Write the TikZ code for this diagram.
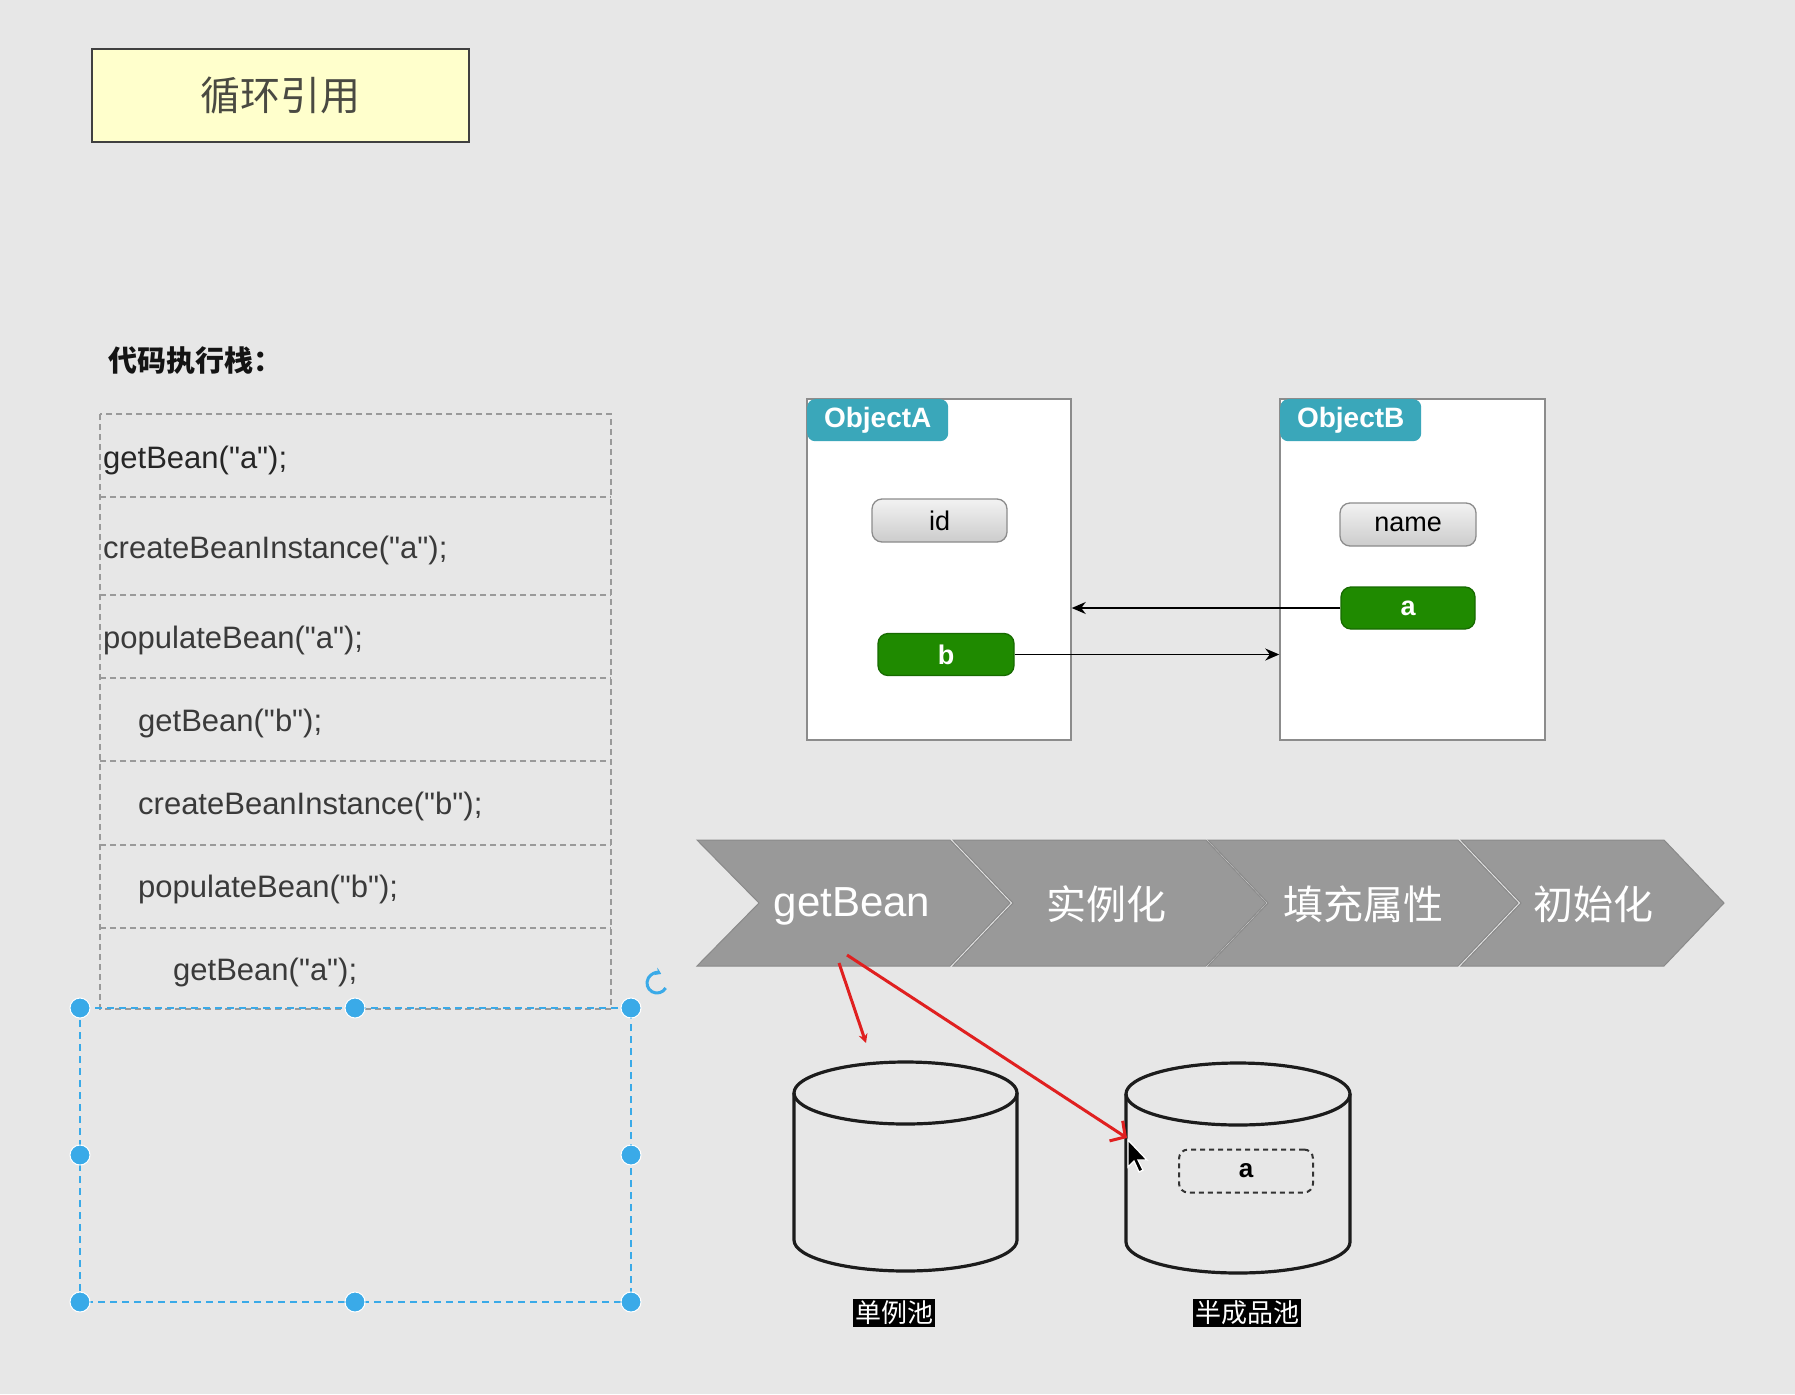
\documentclass[tikz,border=0pt]{standalone}
\usepackage{fontspec}
\setmainfont{Liberation Sans}
\newfontfamily\codefont{Liberation Sans}
\newfontfamily\cjk{Noto Sans CJK SC}
\usetikzlibrary{arrows.meta}
\newcommand{\myfs}[1]{\fontsize{#1}{#1}\selectfont}
\definecolor{bg}{HTML}{E7E7E7}
\definecolor{titlefill}{HTML}{FFFFCC}
\definecolor{titletext}{HTML}{4A4A42}
\definecolor{stackgray}{HTML}{9A9A9A}
\definecolor{codegray}{HTML}{3A3A3A}
\definecolor{selblue}{HTML}{3AAAE8}
\definecolor{tabteal}{HTML}{3AA7BA}
\definecolor{beangreen}{HTML}{1F8A00}
\definecolor{beangreendk}{HTML}{176A00}
\definecolor{chevgray}{HTML}{999999}
\definecolor{chevedge}{HTML}{8A8A8A}
\definecolor{boxgray}{HTML}{8C8C8C}
\definecolor{redline}{HTML}{E02020}
\definecolor{cylline}{HTML}{1C1C1C}
\begin{document}
\begin{tikzpicture}[x=1pt,y=-1pt,
  stackrow/.style={draw=stackgray, dash pattern=on 6pt off 4pt, line width=1.3pt},
  codetxt/.style={anchor=west, text=codegray, font=\codefont\myfs{31}, inner sep=0pt},
  objbox/.style={draw=boxgray, fill=white, line width=1.5pt, minimum height=341pt, inner sep=0pt},
  objtab/.style={fill=tabteal, rounded corners=8pt, text=white, font=\myfs{28}\bfseries, minimum width=141pt, minimum height=42pt, anchor=north west, inner sep=0pt},
  graypill/.style={draw=boxgray, line width=1.3pt, rounded corners=10pt, top color=white!95!black, bottom color=black!20, minimum height=43pt, font=\myfs{27}, inner sep=0pt},
  greenpill/.style={draw=beangreendk, line width=1.3pt, fill=beangreen, rounded corners=10pt, text=white, minimum height=42pt, font=\myfs{27}\bfseries, inner sep=0pt},
  objarr/.style={line width=1.6pt, -{Stealth[length=14pt,width=12pt]}},
  chev/.style={fill=chevgray, draw=chevedge, line width=1pt},
  chevtxt/.style={text=white, inner sep=0pt},
  cyl/.style={draw=cylline, line width=3.2pt},
  pooltag/.style={fill=black, text=white, font=\cjk\myfs{26}, inner xsep=2pt, inner ysep=2pt},
  redarr/.style={draw=redline, line width=3pt},
  selline/.style={draw=selblue, line width=2pt, dash pattern=on 7pt off 5pt},
  handle/.style={fill=selblue, draw=white, line width=1pt}
]
\useasboundingbox[fill=bg] (0,0) rectangle (1795,1394);

% title
\node[draw=black!75, line width=2pt, fill=titlefill, minimum width=377pt, minimum height=93pt, inner sep=0pt, text=titletext, font=\cjk\myfs{40}] (title) at (280.5,95.5) {循环引用};

% code stack
\node[anchor=west, inner sep=0pt, font=\cjk\bfseries\myfs{29}, text=black!92] (stacklbl) at (108,361) {代码执行栈：};
\draw[stackrow] (100,414) rectangle (611,1009);
\foreach \yy in {497,595,678,761,845,928} \draw[stackrow] (100,\yy) -- (611,\yy);
\node[codetxt, text=black!85] (s1) at (103,460) {getBean("a");};
\node[codetxt] (s2) at (103,550) {createBeanInstance("a");};
\node[codetxt] (s3) at (103,640) {populateBean("a");};
\node[codetxt] (s4) at (138,723) {getBean("b");};
\node[codetxt] (s5) at (138,806) {createBeanInstance("b");};
\node[codetxt] (s6) at (138,889) {populateBean("b");};
\node[codetxt] (s7) at (173,972) {getBean("a");};

% selection frame
\draw[selline] (80,1008) rectangle (631,1302);
\foreach \hx/\hy in {80/1008,355/1008,631/1008,80/1155,631/1155,80/1302,355/1302,631/1302}
  \draw[handle] (\hx,\hy) circle[radius=10];
\draw[selblue, line width=3pt, -{Stealth[length=6pt,width=8pt]}] (657,983) ++(30:10) arc[start angle=30, end angle=295, radius=10];

% objects
\node[objbox, minimum width=264pt] (objA) at (939,569.5) {};
\node[objbox, minimum width=265pt] (objB) at (1412.5,569.5) {};
\node[objtab] (tabA) at (807,399) {ObjectA};
\node[objtab] (tabB) at (1280,399) {ObjectB};
\node[graypill, minimum width=135pt] (id) at (939.5,520.5) {id};
\node[graypill, minimum width=136pt] (name) at (1408,524.5) {name};
\node[greenpill, minimum width=136pt] (b) at (946,654.5) {b};
\node[greenpill, minimum width=134pt] (a) at (1408,608) {a};
\draw[objarr] (a.west) -- (objA.east |- a.west);
\draw[objarr] (b.east) -- (b.east -| objB.west);

% chevrons
\draw[chev] (697,840) -- (950,840) -- (1010,903) -- (950,966) -- (697,966) -- (759,903) -- cycle;
\draw[chev] (953,840) -- (1206,840) -- (1266,903) -- (1206,966) -- (953,966) -- (1013,903) -- cycle;
\draw[chev] (1208,840) -- (1458,840) -- (1518,903) -- (1458,966) -- (1208,966) -- (1268,903) -- cycle;
\draw[chev] (1461,840) -- (1664,840) -- (1724,903) -- (1664,966) -- (1461,966) -- (1521,903) -- cycle;
\node[chevtxt, font=\myfs{42}] (c1) at (852,906) {getBean};
\node[chevtxt, font=\cjk\myfs{40}] (c2) at (1106,904) {实例化};
\node[chevtxt, font=\cjk\myfs{40}] (c3) at (1363,904) {填充属性};
\node[chevtxt, font=\cjk\myfs{40}] (c4) at (1593,904) {初始化};

% cylinders
\draw[cyl] (794,1093) -- (794,1240) arc[start angle=180, end angle=0, x radius=111.5, y radius=31] -- (1017,1093);
\draw[cyl] (905.5,1093) ellipse[x radius=111.5, y radius=31];
\draw[cyl] (1126,1094) -- (1126,1242) arc[start angle=180, end angle=0, x radius=112, y radius=31] -- (1350,1094);
\draw[cyl] (1238,1094) ellipse[x radius=112, y radius=31];
\node[draw=black!80, dash pattern=on 5pt off 4pt, line width=2pt, rounded corners=9pt, minimum width=134pt, minimum height=43pt, inner sep=0pt, font=\myfs{26}\bfseries] (halfa) at (1246,1171) {a};
\node[pooltag] (pool1) at (894,1313) {单例池};
\node[pooltag] (pool2) at (1247,1313) {半成品池};

% red arrows
\coordinate (r1s) at (839,963);
\coordinate (r1e) at (866,1043);
\coordinate (r2s) at (847,955);
\coordinate (r2e) at (1127,1138);
\draw[redarr, -{Stealth[length=9pt,width=9pt]}] (r1s) -- (r1e);
\draw[redarr, -{Straight Barb[length=11pt,width=24pt]}] (r2s) -- (r2e);

% mouse cursor
\filldraw[fill=black, draw=white, line width=1.3pt] (1128,1140) -- ++(0,27) -- ++(6,-6) -- ++(5,11) -- ++(4,-2) -- ++(-5,-10) -- ++(9,0) -- cycle;
\end{tikzpicture}
\end{document}
